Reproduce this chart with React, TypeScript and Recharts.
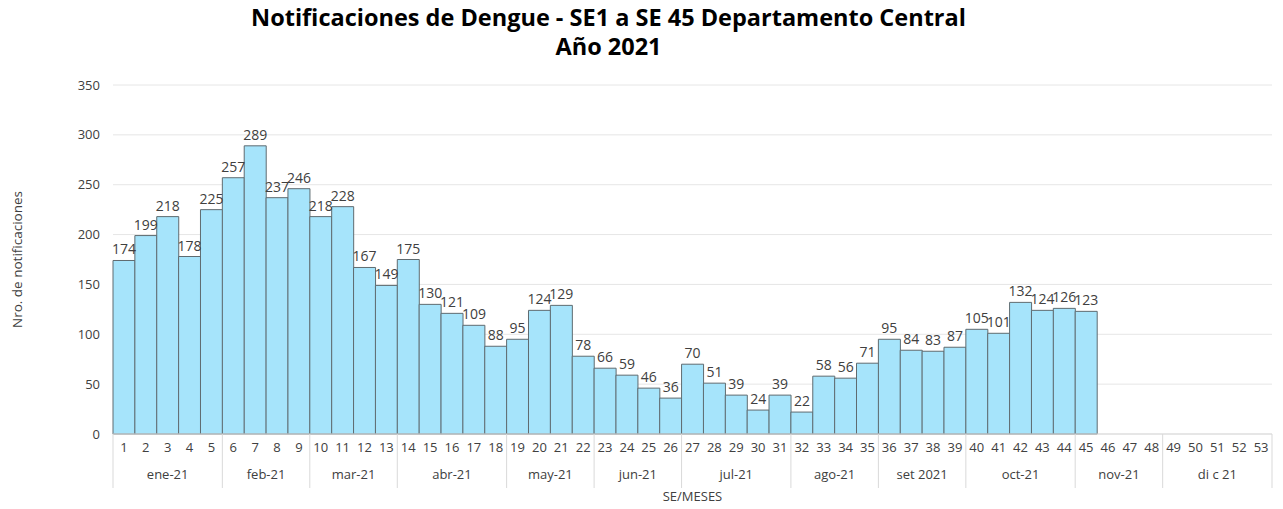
import { BarChart, Bar, XAxis, YAxis, CartesianGrid, LabelList } from "recharts";

const WEEKS = Array.from({ length: 53 }, (_, i) => String(i + 1));
const CASES = [
  174, 199, 218, 178, 225, 257, 289, 237, 246, 218, 228, 167, 149, 175, 130, 121, 109, 88, 95, 124, 129, 78,
  66, 59, 46, 36, 70, 51, 39, 24, 39, 22, 58, 56, 71, 95, 84, 83, 87, 105, 101, 132, 124, 126, 123,
];
const MONTHS = ["ene-21", "feb-21", "mar-21", "abr-21", "may-21", "jun-21", "jul-21", "ago-21", "set 2021", "oct-21", "nov-21", "di c 21"];
const MONTH_WEEKS = [5, 4, 4, 5, 4, 4, 5, 4, 4, 5, 4, 5];
const Y_TICKS = [0, 50, 100, 150, 200, 250, 300, 350];

const BAR_FILL = "#A6E4FB";
const BAR_STROKE = "#5f6b70";
const TEXT = "#404040";
const LINE = "#d9d9d9";
const FONT = "'Open Sans', sans-serif";

const data = WEEKS.map((se, i) => ({ se, value: i < CASES.length ? CASES[i] : null }));

// primera semana de cada mes -> índice del mes
const monthStart: Record<number, number> = {};
let acc = 0;
MONTH_WEEKS.forEach((n, m) => {
  monthStart[acc] = m;
  acc += n;
});

function MonthTick(props: any) {
  const { x, y, payload } = props;
  const idx = payload.index;
  const half = payload.offset ?? 0;
  const band = half * 2;
  const left = x - half;
  const m = monthStart[idx];
  const isLast = idx === WEEKS.length - 1;
  return (
    <g>
      {m !== undefined && (
        <>
          <line x1={left} x2={left} y1={y - 26} y2={y + 28} stroke={LINE} />
          <text
            x={left + (MONTH_WEEKS[m] * band) / 2}
            y={y + 19}
            textAnchor="middle"
            fill={TEXT}
            fontSize={13}
            fontFamily={FONT}
          >
            {MONTHS[m]}
          </text>
        </>
      )}
      {isLast && <line x1={x + half} x2={x + half} y1={y - 26} y2={y + 28} stroke={LINE} />}
    </g>
  );
}

export default function App() {
  return (
    <div style={{ position: "relative", width: 1283, height: 509, background: "#fff" }}>
      <style>{`body{margin:0}`}</style>
      {/* título */}
      <div
        style={{
          position: "absolute",
          left: 0,
          top: 3,
          width: 1217,
          textAlign: "center",
          fontFamily: FONT,
          fontWeight: 700,
          fontSize: 23.5,
          lineHeight: "29px",
          color: "#000",
          zIndex: 1,
        }}
      >
        Notificaciones de Dengue - SE1 a SE 45 Departamento Central
        <br />
        Año 2021
      </div>
      <BarChart
        width={1283}
        height={509}
        data={data}
        margin={{ top: 85, right: 11, left: 13, bottom: 21 }}
        barCategoryGap={0}
      >
        <CartesianGrid vertical={false} stroke="#e6e6e6" />
        <XAxis
          dataKey="se"
          height={26}
          tickLine={false}
          tickSize={0}
          tickMargin={9}
          axisLine={{ stroke: LINE }}
          interval={0}
          tick={{ fontSize: 13, fill: TEXT, fontFamily: FONT }}
        />
        <XAxis
          xAxisId="month"
          dataKey="se"
          height={28}
          tickLine={false}
          tickSize={0}
          tickMargin={0}
          axisLine={false}
          interval={0}
          tick={<MonthTick />}
          label={{ value: "SE/MESES", position: "bottom", offset: 4, fill: TEXT, fontSize: 13, fontFamily: FONT }}
        />
        <YAxis
          width={100}
          domain={[0, 350]}
          ticks={Y_TICKS}
          tickLine={false}
          axisLine={false}
          tickMargin={7}
          tick={{ fontSize: 13, fill: TEXT, fontFamily: FONT }}
          label={{
            value: "Nro. de notificaciones",
            angle: -90,
            position: "insideLeft",
            offset: 4,
            fill: TEXT,
            fontSize: 13.5,
            fontFamily: FONT,
            style: { textAnchor: "middle" },
          }}
        />
        <Bar dataKey="value" fill={BAR_FILL} stroke={BAR_STROKE} strokeWidth={1} isAnimationActive={false}>
          <LabelList
            dataKey="value"
            position="top"
            offset={6}
            fill={TEXT}
            fontSize={14}
            fontFamily={FONT}
            formatter={(v: any) => (v == null ? "" : v)}
          />
        </Bar>
      </BarChart>
    </div>
  );
}
